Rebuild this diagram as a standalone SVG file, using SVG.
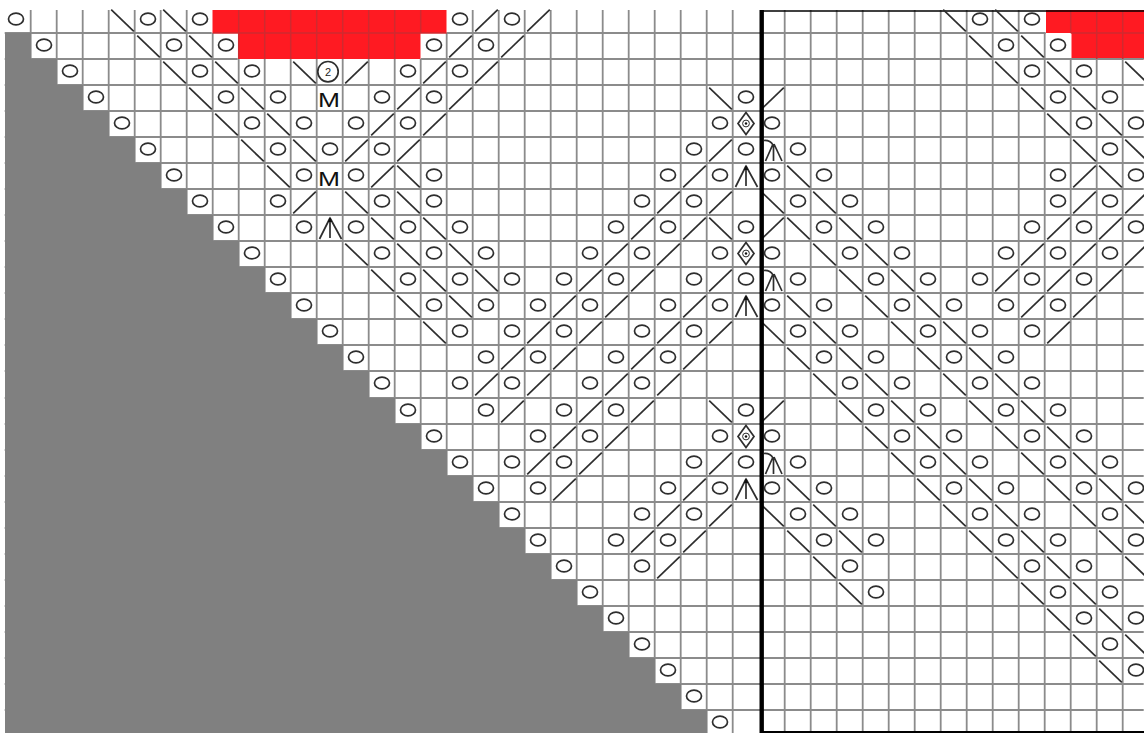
<svg xmlns="http://www.w3.org/2000/svg" width="1144" height="733" viewBox="0 0 1144 733">
<style>
.s{fill:none;stroke:#2e2e2e;stroke-width:1.7}
.g{fill:none;stroke:#8b8b8b;stroke-width:1.8}
.rl{fill:none;stroke:#cf2a30;stroke-width:1.5}
.m{font-family:"Liberation Sans",Arial,sans-serif;font-size:21px;fill:#111;text-anchor:middle}
.t{font-family:"Liberation Sans",Arial,sans-serif;font-size:11px;fill:#222;text-anchor:middle}
</style>
<defs>
<ellipse id="o" class="s" cx="13" cy="12" rx="7.5" ry="5.8"/>
<path id="b" class="s" d="M2.2 2.6L24.8 24.4"/>
<path id="f" class="s" d="M2.2 24.4L24.8 2.6"/>
<g id="a"><path class="s" d="M13 3V23M13 3L2.5 24M13 3L24.5 24"/><path d="M13 1.5L10.8 7H15.2Z" fill="#111"/></g>
<g id="a2"><path class="s" d="M14.5 7V24M14 7L6.5 24M15 7L23 24M5 3.5Q11 3 14 8"/></g>
<g id="d"><path class="s" d="M13 1.5L21 12.5L13 23.5L5 12.5Z"/><circle class="s" style="stroke-width:1" cx="13" cy="12.5" r="3.4"/><circle cx="13" cy="12.5" r="1.2" fill="#111"/></g>
</defs>
<rect width="1144" height="733" fill="#fff"/>
<g id="red" fill="#ff1a22">
<path d="M212.5 10H446.5V33H420.5V59H238.5V33H212.5Z"/>
<path d="M1046 10H1144V59H1071.5V33H1046Z"/>
</g>
<g id="grid" transform="translate(-0.3,0)">
<path class="g" d="M31 10V733M57 10V733M83 10V733M109 10V733M135 10V733M161 10V733M187 10V733M213 33V733M239 59V733M265 59V733M291 59V733M317 59V733M343 59V733M369 59V733M395 59V733M421 59V733M447 33V733M473 10V733M499 10V733M525 10V733M551 10V733M577 10V733M603 10V733M629 10V733M655 10V733M681 10V733M707 10V733M733 10V733M785 10V733M811 10V733M837 10V733M863 10V733M889 10V733M915 10V733M941 10V733M967 10V733M993 10V733M1019 10V733M1045 33V733M1071 59V733M1097 59V733M1123 59V733"/>
<path class="g" d="M5 33H212M447 33H1046M5 59H238M421 59H1071M1071 59H1144M5 85H1144M5 111H1144M5 137H1144M5 163H1144M5 189H1144M5 215H1144M5 241H1144M5 267H1144M5 293H1144M5 319H1144M5 345H1144M5 371H1144M5 398H1144M5 424H1144M5 450H1144M5 476H1144M5 502H1144M5 528H1144M5 554H1144M5 580H1144M5 606H1144M5 632H1144M5 658H1144M5 684H1144M5 710H1144"/>
<path class="rl" d="M239 10V59M265 10V59M291 10V59M317 10V59M343 10V59M369 10V59M395 10V59M421 10V33M213 33H447M1071 10V33M1097 10V59M1123 10V59M1071 33H1144"/>
</g>
<path id="shade" fill="#808080" d="M5 33H31V59H57V85H83V111H109V137H135V163H161V189H187V215H213V241H239V267H265V293H291V319H317V345H343V371H369V398H395V424H421V450H447V476H473V502H499V528H525V554H551V580H577V606H603V632H629V658H655V684H681V710H707V733H5Z"/>
<g id="frame" fill="none" stroke="#000">
<path stroke-width="1.6" d="M760 11H1144"/>
<path stroke-width="2" d="M760 732H1144"/>
</g>
<g id="symbols">
<g transform="translate(0,7)"><use href="#o" x="3"/><use href="#b" x="109"/><use href="#o" x="135"/><use href="#b" x="161"/><use href="#o" x="187"/><use href="#o" x="447"/><use href="#f" x="473"/><use href="#o" x="499"/><use href="#f" x="525"/><use href="#b" x="941"/><use href="#o" x="967"/><use href="#b" x="993"/><use href="#o" x="1019"/></g>
<g transform="translate(0,33)"><use href="#o" x="31"/><use href="#b" x="135"/><use href="#o" x="161"/><use href="#b" x="187"/><use href="#o" x="213"/><use href="#o" x="421"/><use href="#f" x="447"/><use href="#o" x="473"/><use href="#f" x="499"/><use href="#b" x="967"/><use href="#o" x="993"/><use href="#b" x="1019"/><use href="#o" x="1045"/></g>
<g transform="translate(0,59)"><use href="#o" x="57"/><use href="#b" x="161"/><use href="#o" x="187"/><use href="#b" x="213"/><use href="#o" x="239"/><use href="#b" x="291"/><circle class="s" cx="328" cy="12.7" r="10.2"/><text class="t" x="328" y="17">2</text><use href="#f" x="343"/><use href="#o" x="395"/><use href="#f" x="421"/><use href="#o" x="447"/><use href="#f" x="473"/><use href="#b" x="993"/><use href="#o" x="1019"/><use href="#b" x="1045"/><use href="#o" x="1071"/><use href="#b" x="1123"/></g>
<g transform="translate(0,85)"><use href="#o" x="83"/><use href="#b" x="187"/><use href="#o" x="213"/><use href="#b" x="239"/><use href="#o" x="265"/><text class="m" x="329" y="21.5" textLength="22" lengthAdjust="spacingAndGlyphs">M</text><use href="#o" x="369"/><use href="#f" x="395"/><use href="#o" x="421"/><use href="#f" x="447"/><use href="#b" x="707"/><use href="#o" x="733"/><use href="#f" x="759"/><use href="#b" x="1019"/><use href="#o" x="1045"/><use href="#b" x="1071"/><use href="#o" x="1097"/></g>
<g transform="translate(0,111)"><use href="#o" x="109"/><use href="#b" x="213"/><use href="#o" x="239"/><use href="#b" x="265"/><use href="#o" x="291"/><use href="#o" x="343"/><use href="#f" x="369"/><use href="#o" x="395"/><use href="#f" x="421"/><use href="#o" x="707"/><use href="#d" x="733"/><use href="#o" x="759"/><use href="#b" x="1045"/><use href="#o" x="1071"/><use href="#b" x="1097"/><use href="#o" x="1123"/></g>
<g transform="translate(0,137)"><use href="#o" x="135"/><use href="#b" x="239"/><use href="#o" x="265"/><use href="#b" x="291"/><use href="#o" x="317"/><use href="#f" x="343"/><use href="#o" x="369"/><use href="#f" x="395"/><use href="#o" x="681"/><use href="#f" x="707"/><use href="#o" x="733"/><use href="#a2" x="759"/><use href="#o" x="785"/><use href="#b" x="1071"/><use href="#o" x="1097"/><use href="#b" x="1123"/></g>
<g transform="translate(0,163)"><use href="#o" x="161"/><use href="#b" x="265"/><use href="#o" x="291"/><text class="m" x="329" y="22.5" textLength="22" lengthAdjust="spacingAndGlyphs">M</text><use href="#o" x="343"/><use href="#f" x="369"/><use href="#b" x="395"/><use href="#o" x="421"/><use href="#o" x="655"/><use href="#f" x="681"/><use href="#o" x="707"/><use href="#a" x="733"/><use href="#o" x="759"/><use href="#b" x="785"/><use href="#o" x="811"/><use href="#o" x="1045"/><use href="#f" x="1071"/><use href="#b" x="1097"/><use href="#o" x="1123"/></g>
<g transform="translate(0,189)"><use href="#o" x="187"/><use href="#o" x="265"/><use href="#f" x="291"/><use href="#b" x="343"/><use href="#o" x="369"/><use href="#b" x="395"/><use href="#o" x="421"/><use href="#o" x="629"/><use href="#f" x="655"/><use href="#o" x="681"/><use href="#f" x="707"/><use href="#b" x="759"/><use href="#o" x="785"/><use href="#b" x="811"/><use href="#o" x="837"/><use href="#o" x="1045"/><use href="#f" x="1071"/><use href="#o" x="1097"/><use href="#f" x="1123"/></g>
<g transform="translate(0,215)"><use href="#o" x="213"/><use href="#o" x="291"/><use href="#a" x="317"/><use href="#o" x="343"/><use href="#b" x="369"/><use href="#o" x="395"/><use href="#b" x="421"/><use href="#o" x="447"/><use href="#o" x="603"/><use href="#f" x="629"/><use href="#o" x="655"/><use href="#f" x="681"/><use href="#b" x="707"/><use href="#o" x="733"/><use href="#f" x="759"/><use href="#b" x="785"/><use href="#o" x="811"/><use href="#b" x="837"/><use href="#o" x="863"/><use href="#o" x="1019"/><use href="#f" x="1045"/><use href="#o" x="1071"/><use href="#f" x="1097"/><use href="#o" x="1123"/></g>
<g transform="translate(0,241)"><use href="#o" x="239"/><use href="#b" x="343"/><use href="#o" x="369"/><use href="#b" x="395"/><use href="#o" x="421"/><use href="#b" x="447"/><use href="#o" x="473"/><use href="#o" x="577"/><use href="#f" x="603"/><use href="#o" x="629"/><use href="#f" x="655"/><use href="#o" x="707"/><use href="#d" x="733"/><use href="#o" x="759"/><use href="#b" x="811"/><use href="#o" x="837"/><use href="#b" x="863"/><use href="#o" x="889"/><use href="#o" x="993"/><use href="#f" x="1019"/><use href="#o" x="1045"/><use href="#f" x="1071"/><use href="#o" x="1097"/><use href="#f" x="1123"/></g>
<g transform="translate(0,267)"><use href="#o" x="265"/><use href="#b" x="369"/><use href="#o" x="395"/><use href="#b" x="421"/><use href="#o" x="447"/><use href="#b" x="473"/><use href="#o" x="499"/><use href="#o" x="551"/><use href="#f" x="577"/><use href="#o" x="603"/><use href="#f" x="629"/><use href="#o" x="681"/><use href="#f" x="707"/><use href="#o" x="733"/><use href="#a2" x="759"/><use href="#o" x="785"/><use href="#b" x="837"/><use href="#o" x="863"/><use href="#b" x="889"/><use href="#o" x="915"/><use href="#o" x="967"/><use href="#f" x="993"/><use href="#o" x="1019"/><use href="#f" x="1045"/><use href="#o" x="1071"/><use href="#f" x="1097"/></g>
<g transform="translate(0,293)"><use href="#o" x="291"/><use href="#b" x="395"/><use href="#o" x="421"/><use href="#b" x="447"/><use href="#o" x="473"/><use href="#o" x="525"/><use href="#f" x="551"/><use href="#o" x="577"/><use href="#f" x="603"/><use href="#o" x="655"/><use href="#f" x="681"/><use href="#o" x="707"/><use href="#a" x="733"/><use href="#o" x="759"/><use href="#b" x="785"/><use href="#o" x="811"/><use href="#b" x="863"/><use href="#o" x="889"/><use href="#b" x="915"/><use href="#o" x="941"/><use href="#o" x="993"/><use href="#f" x="1019"/><use href="#o" x="1045"/><use href="#f" x="1071"/></g>
<g transform="translate(0,319)"><use href="#o" x="317"/><use href="#b" x="421"/><use href="#o" x="447"/><use href="#o" x="499"/><use href="#f" x="525"/><use href="#o" x="551"/><use href="#f" x="577"/><use href="#o" x="629"/><use href="#f" x="655"/><use href="#o" x="681"/><use href="#f" x="707"/><use href="#b" x="759"/><use href="#o" x="785"/><use href="#b" x="811"/><use href="#o" x="837"/><use href="#b" x="889"/><use href="#o" x="915"/><use href="#b" x="941"/><use href="#o" x="967"/><use href="#o" x="1019"/><use href="#f" x="1045"/></g>
<g transform="translate(0,345)"><use href="#o" x="343"/><use href="#o" x="473"/><use href="#f" x="499"/><use href="#o" x="525"/><use href="#f" x="551"/><use href="#o" x="603"/><use href="#f" x="629"/><use href="#o" x="655"/><use href="#f" x="681"/><use href="#b" x="785"/><use href="#o" x="811"/><use href="#b" x="837"/><use href="#o" x="863"/><use href="#b" x="915"/><use href="#o" x="941"/><use href="#b" x="967"/><use href="#o" x="993"/></g>
<g transform="translate(0,371)"><use href="#o" x="369"/><use href="#o" x="447"/><use href="#f" x="473"/><use href="#o" x="499"/><use href="#f" x="525"/><use href="#o" x="577"/><use href="#f" x="603"/><use href="#o" x="629"/><use href="#f" x="655"/><use href="#b" x="811"/><use href="#o" x="837"/><use href="#b" x="863"/><use href="#o" x="889"/><use href="#b" x="941"/><use href="#o" x="967"/><use href="#b" x="993"/><use href="#o" x="1019"/></g>
<g transform="translate(0,398)"><use href="#o" x="395"/><use href="#o" x="473"/><use href="#f" x="499"/><use href="#o" x="551"/><use href="#f" x="577"/><use href="#o" x="603"/><use href="#f" x="629"/><use href="#b" x="707"/><use href="#o" x="733"/><use href="#f" x="759"/><use href="#b" x="837"/><use href="#o" x="863"/><use href="#b" x="889"/><use href="#o" x="915"/><use href="#b" x="967"/><use href="#o" x="993"/><use href="#b" x="1019"/><use href="#o" x="1045"/></g>
<g transform="translate(0,424)"><use href="#o" x="421"/><use href="#o" x="525"/><use href="#f" x="551"/><use href="#o" x="577"/><use href="#f" x="603"/><use href="#o" x="707"/><use href="#d" x="733"/><use href="#o" x="759"/><use href="#b" x="863"/><use href="#o" x="889"/><use href="#b" x="915"/><use href="#o" x="941"/><use href="#b" x="993"/><use href="#o" x="1019"/><use href="#b" x="1045"/><use href="#o" x="1071"/></g>
<g transform="translate(0,450)"><use href="#o" x="447"/><use href="#o" x="499"/><use href="#f" x="525"/><use href="#o" x="551"/><use href="#f" x="577"/><use href="#o" x="681"/><use href="#f" x="707"/><use href="#o" x="733"/><use href="#a2" x="759"/><use href="#o" x="785"/><use href="#b" x="889"/><use href="#o" x="915"/><use href="#b" x="941"/><use href="#o" x="967"/><use href="#b" x="1019"/><use href="#o" x="1045"/><use href="#b" x="1071"/><use href="#o" x="1097"/></g>
<g transform="translate(0,476)"><use href="#o" x="473"/><use href="#o" x="525"/><use href="#f" x="551"/><use href="#o" x="655"/><use href="#f" x="681"/><use href="#o" x="707"/><use href="#a" x="733"/><use href="#o" x="759"/><use href="#b" x="785"/><use href="#o" x="811"/><use href="#b" x="915"/><use href="#o" x="941"/><use href="#b" x="967"/><use href="#o" x="993"/><use href="#b" x="1045"/><use href="#o" x="1071"/><use href="#b" x="1097"/><use href="#o" x="1123"/></g>
<g transform="translate(0,502)"><use href="#o" x="499"/><use href="#o" x="629"/><use href="#f" x="655"/><use href="#o" x="681"/><use href="#f" x="707"/><use href="#b" x="759"/><use href="#o" x="785"/><use href="#b" x="811"/><use href="#o" x="837"/><use href="#b" x="941"/><use href="#o" x="967"/><use href="#b" x="993"/><use href="#o" x="1019"/><use href="#b" x="1071"/><use href="#o" x="1097"/><use href="#b" x="1123"/></g>
<g transform="translate(0,528)"><use href="#o" x="525"/><use href="#o" x="603"/><use href="#f" x="629"/><use href="#o" x="655"/><use href="#f" x="681"/><use href="#b" x="785"/><use href="#o" x="811"/><use href="#b" x="837"/><use href="#o" x="863"/><use href="#b" x="967"/><use href="#o" x="993"/><use href="#b" x="1019"/><use href="#o" x="1045"/><use href="#b" x="1097"/><use href="#o" x="1123"/></g>
<g transform="translate(0,554)"><use href="#o" x="551"/><use href="#o" x="629"/><use href="#f" x="655"/><use href="#b" x="811"/><use href="#o" x="837"/><use href="#b" x="993"/><use href="#o" x="1019"/><use href="#b" x="1045"/><use href="#o" x="1071"/><use href="#b" x="1123"/></g>
<g transform="translate(0,580)"><use href="#o" x="577"/><use href="#b" x="837"/><use href="#o" x="863"/><use href="#b" x="1019"/><use href="#o" x="1045"/><use href="#b" x="1071"/><use href="#o" x="1097"/></g>
<g transform="translate(0,606)"><use href="#o" x="603"/><use href="#b" x="1045"/><use href="#o" x="1071"/><use href="#b" x="1097"/><use href="#o" x="1123"/></g>
<g transform="translate(0,632)"><use href="#o" x="629"/><use href="#b" x="1071"/><use href="#o" x="1097"/><use href="#b" x="1123"/></g>
<g transform="translate(0,658)"><use href="#o" x="655"/><use href="#b" x="1097"/><use href="#o" x="1123"/></g>
<g transform="translate(0,684)"><use href="#o" x="681"/></g>
<g transform="translate(0,710)"><use href="#o" x="707"/></g>
</g>
<path id="centre-line" stroke="#000" stroke-width="4.4" d="M761.7 10V733"/>
</svg>
